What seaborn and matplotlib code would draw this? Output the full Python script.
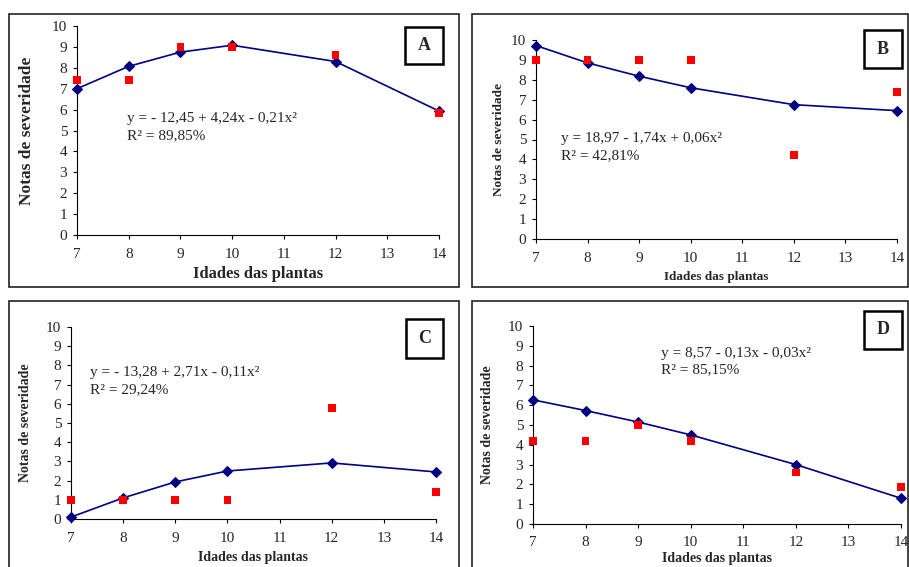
import pandas as pd
import seaborn as sns
import matplotlib.pyplot as plt
from matplotlib.patches import Rectangle

# plant ages (x) shared by all four panels
idades = [7, 8, 9, 10, 12, 14]

# fitted (blue diamonds) and observed (red squares) severity scores
ajuste_a = [7.0, 8.07, 8.75, 9.08, 8.3, 5.93]
notas_a = [7.4, 7.4, 9.0, 9.0, 8.6, 5.85]
ajuste_b = [9.72, 8.85, 8.18, 7.6, 6.75, 6.45]
notas_b = [9.0, 9.0, 9.0, 9.0, 4.2, 7.4]
ajuste_c = [0.1, 1.1, 1.93, 2.5, 2.92, 2.45]
notas_c = [1.0, 1.0, 1.0, 1.0, 5.8, 1.4]
ajuste_d = [6.27, 5.73, 5.15, 4.5, 3.0, 1.3]
notas_d = [4.2, 4.2, 5.0, 4.2, 2.6, 1.85]

equacoes = ["y = - 12,45 + 4,24x - 0,21x²", "y = 18,97 - 1,74x + 0,06x²",
            "y = - 13,28 + 2,71x - 0,11x²", "y = 8,57 - 0,13x - 0,03x²"]
r2 = ["R² = 89,85%", "R² = 42,81%", "R² = 29,24%", "R² = 85,15%"]
letras = ["A", "B", "C", "D"]

sns.set_style("ticks")
plt.rcParams["font.family"] = ["Liberation Serif", "DejaVu Serif"]

W, H = 909, 567
fig = plt.figure(figsize=(W / 100, H / 100), dpi=100)


def fx(px):
    return px / W


def fy(py):
    return 1 - py / H


# panel layout in pixels: axes box, outer frame, letter box, text positions, label sizes/pads
paineis = [
    dict(ax=(77, 26, 439, 235), frame=(9, 14, 459, 287), box=(405, 27, 443, 64),
         eq=(7.97, 5.4, 4.6), ylab=12.5, xlab=12, ypad=12, xpad=4,
         ajuste=ajuste_a, notas=notas_a),
    dict(ax=(536, 40, 897, 239), frame=(472, 14, 908, 287), box=(864, 30, 902, 68),
         eq=(7.48, 4.87, 4.02), ylab=9.5, xlab=9.5, ypad=4, xpad=5,
         ajuste=ajuste_b, notas=notas_b),
    dict(ax=(71, 327, 436, 519), frame=(9, 301, 459, 575), box=(406, 319, 443, 358),
         eq=(7.36, 7.45, 6.56), ylab=10, xlab=10, ypad=10, xpad=5,
         ajuste=ajuste_c, notas=notas_c),
    dict(ax=(533, 326, 901, 524), frame=(472, 301, 908, 575), box=(864, 311, 902, 349),
         eq=(9.43, 8.43, 7.63), ylab=10, xlab=10, ypad=10, xpad=2,
         ajuste=ajuste_d, notas=notas_d),
]

for i, p in enumerate(paineis):
    x0, y0, x1, y1 = p["ax"]
    ax = fig.add_axes([fx(x0), fy(y1), fx(x1 - x0), (y1 - y0) / H])

    df = pd.DataFrame({"idade": idades, "ajuste": p["ajuste"], "nota": p["notas"]})
    sns.lineplot(data=df, x="idade", y="ajuste", ax=ax, color="#000080", linewidth=1.2,
                 marker="D", markersize=5.5, markeredgecolor="#000080", clip_on=False, zorder=3)
    sns.scatterplot(data=df, x="idade", y="nota", ax=ax, color="#ff0000", marker="s",
                    s=32, edgecolor="none", clip_on=False, zorder=4)

    ax.set_xlim(7, 14)
    ax.set_ylim(0, 10)
    ax.set_xticks(range(7, 15))
    ax.set_yticks(range(0, 11))
    ax.tick_params(labelsize=11, length=3, width=0.8, color="black")
    ax.tick_params(axis="x", pad=6)
    ax.tick_params(axis="y", pad=4)
    for s in ["left", "bottom"]:
        ax.spines[s].set_color("black")
        ax.spines[s].set_linewidth(0.8)
    sns.despine(ax=ax)
    ax.set_xlabel("Idades das plantas", fontsize=p["xlab"], fontweight="bold", labelpad=p["xpad"])
    ax.set_ylabel("Notas de severidade", fontsize=p["ylab"], fontweight="bold", labelpad=p["ypad"])
    ax.set_facecolor("none")

    ex, ey1, ey2 = p["eq"]
    ax.text(ex, ey1, equacoes[i], fontsize=11, va="baseline")
    ax.text(ex, ey2, r2[i], fontsize=11, va="baseline")

    # outer frame
    a, b, c, d = p["frame"]
    fig.patches.append(Rectangle((fx(a), fy(d)), fx(c - a), (d - b) / H, transform=fig.transFigure,
                                 fill=False, edgecolor="#222222", linewidth=1.2, zorder=0))
    # letter box
    a, b, c, d = p["box"]
    fig.patches.append(Rectangle((fx(a), fy(d)), fx(c - a), (d - b) / H, transform=fig.transFigure,
                                 fill=False, edgecolor="black", linewidth=1.8, zorder=5))
    fig.text(fx((a + c) / 2), fy((b + d) / 2), letras[i], fontsize=13, fontweight="bold",
             ha="center", va="center")

fig.savefig("out.png", dpi=100)
